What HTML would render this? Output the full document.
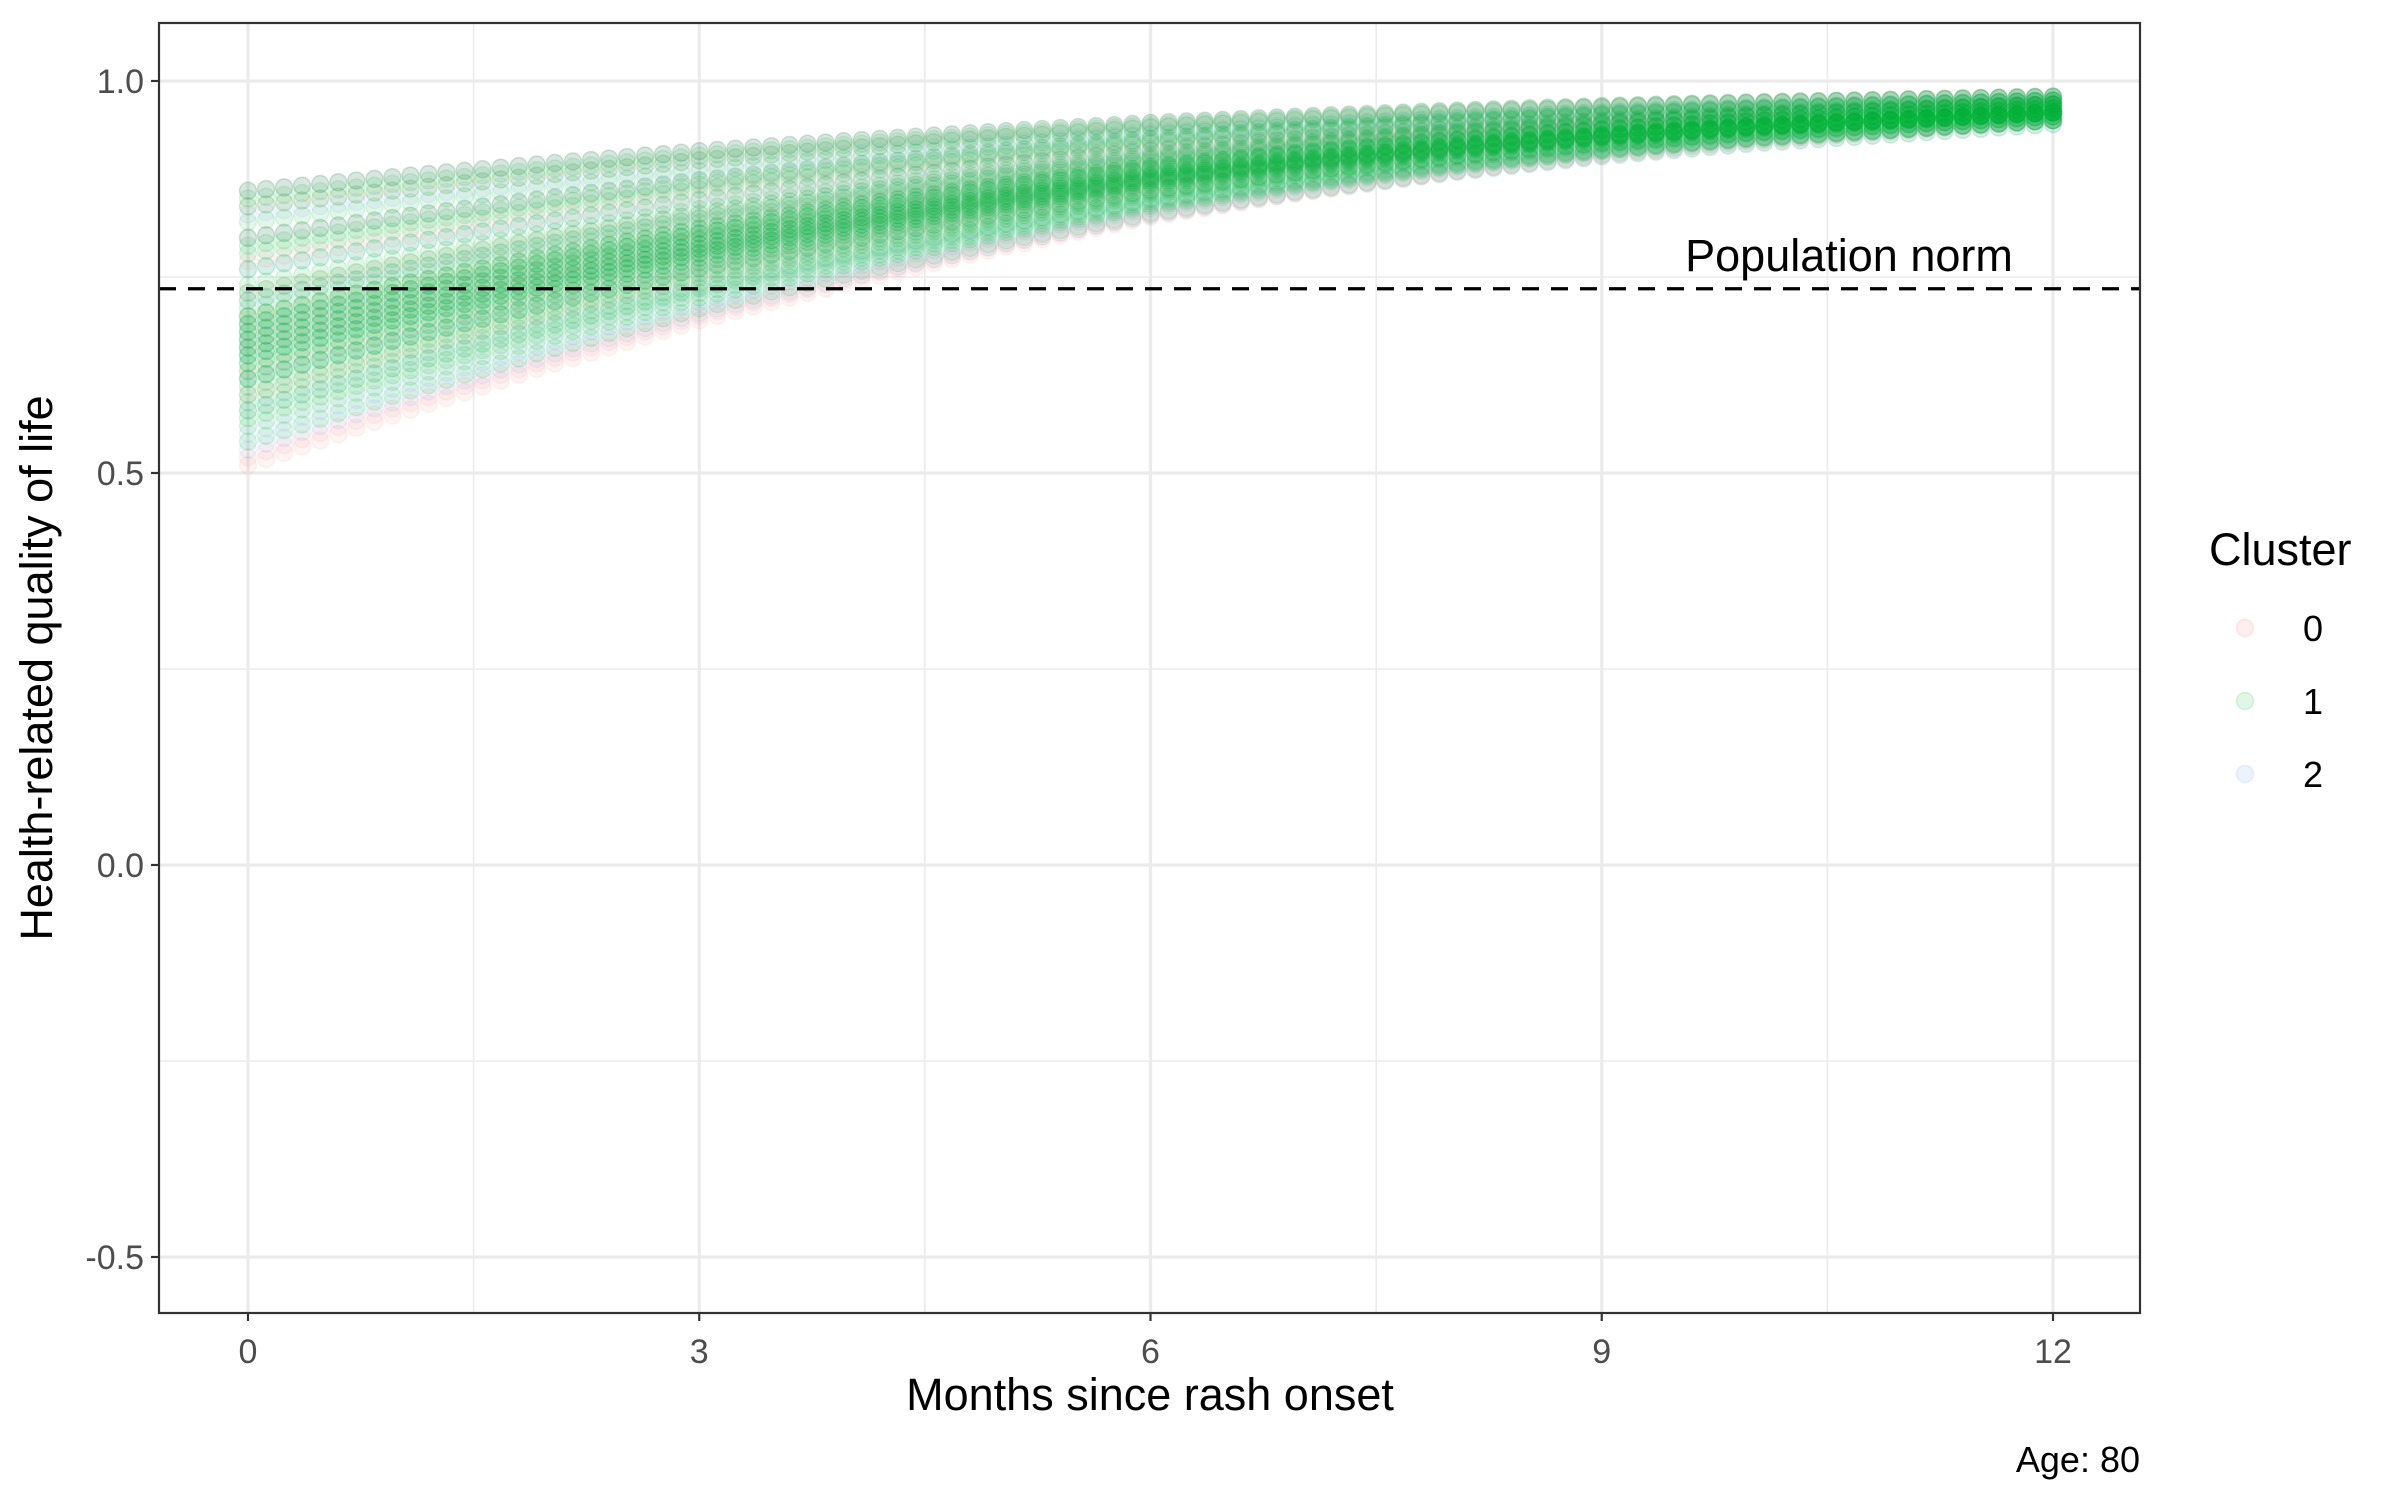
<!DOCTYPE html>
<html><head><meta charset="utf-8">
<style>
html,body{margin:0;padding:0;background:#fff;}
svg{display:block;font-family:"Liberation Sans",Arial,sans-serif;}
</style></head>
<body>
<svg id="chart" width="2400" height="1500" viewBox="0 0 2400 1500" xmlns="http://www.w3.org/2000/svg">
<rect x="0" y="0" width="2400" height="1500" fill="#fff"/>
<g id="grid"></g>
<g id="points"></g>
<line id="normline" stroke="#000" stroke-width="3.2" stroke-dasharray="17,12"/>
<text id="normlabel" font-size="45" text-anchor="middle" fill="#000">Population norm</text>
<rect x="159" y="23" width="1981" height="1290" fill="none" stroke="#333" stroke-width="2.2"/>
<g id="axes"></g>
<text x="1150" y="1410" font-size="45" text-anchor="middle" fill="#000">Months since rash onset</text>
<text x="0" y="0" font-size="45" text-anchor="middle" fill="#000" transform="translate(52,668) rotate(-90)">Health-related quality of life</text>
<text x="2140" y="1472" font-size="36" text-anchor="end" fill="#000">Age: 80</text>
<g id="legend">
<text x="2209" y="565" font-size="45" fill="#000">Cluster</text>
</g>
</svg>
<script>
// ---- data ----
var xTicks = [0, 3, 6, 9, 12];
var xMinor = [1.5, 4.5, 7.5, 10.5];
var yTicks = [-0.5, 0, 0.5, 1.0];
var yTickLabels = ["-0.5", "0.0", "0.5", "1.0"];
var yMinor = [-0.25, 0.25, 0.75];
var populationNorm = 0.735;
var clusterNames = ["0", "1", "2"];
var clusterColors = ["#F8766D", "#00BA38", "#619CFF"];
// recovery profile at months 0..12 (fraction of the way from start to end value)
var profileMonths = [0,1,2,3,4,5,6,7,8,9,10,11,12];
var profileFrac = [0,0.15,0.29,0.42,0.53,0.63,0.72,0.79,0.85,0.90,0.94,0.97,1.0];
// trajectories: start value (month 0) and end value (month 12), per cluster
var startC0 = [0.51,0.52,0.60,0.63,0.66,0.70,0.73,0.77,0.80,0.84,0.86,0.68];
var endC0   = [0.95,0.95,0.96,0.96,0.96,0.97,0.97,0.97,0.97,0.98,0.98,0.96];
var startC1 = [0.54,0.56,0.57,0.58,0.59,0.60,0.61,0.62,0.63,0.64,0.65,0.66,0.67,0.67,0.68,0.69,0.70,0.70,0.71,0.72,0.73,0.74,0.76,0.78,0.79,0.80,0.82,0.84,0.85,0.86,0.62,0.65,0.68,0.66,0.69,0.64];
var endC1   = [0.945,0.95,0.95,0.95,0.95,0.955,0.955,0.955,0.96,0.96,0.96,0.96,0.96,0.96,0.965,0.965,0.965,0.965,0.97,0.97,0.97,0.97,0.97,0.975,0.975,0.975,0.975,0.98,0.98,0.98,0.955,0.96,0.96,0.96,0.965,0.96];
var startC2 = [0.53,0.55,0.58,0.62,0.65,0.69,0.72,0.76,0.80,0.83,0.86,0.67];
var endC2   = [0.945,0.95,0.955,0.96,0.96,0.965,0.97,0.97,0.975,0.975,0.98,0.96];
var timeStep = 0.12;

// ---- scales ----
function xS(m){ return 248 + m * (2053 - 248) / 12; }
function yS(v){ return 81 + (1.0 - v) * 784; }
var NS = "http://www.w3.org/2000/svg";
function mk(tag, attrs, parent){
  var e = document.createElementNS(NS, tag);
  for (var k in attrs) e.setAttribute(k, attrs[k]);
  parent.appendChild(e);
  return e;
}
function frac(m){
  var i = Math.min(Math.floor(m), 11);
  var t = m - i;
  return profileFrac[i] + (profileFrac[i+1] - profileFrac[i]) * t;
}
var grid = document.getElementById('grid');
xMinor.forEach(function(m){
  var l = mk('line', {x1:xS(m), x2:xS(m), y1:23, y2:1313, stroke:'#ebebeb', 'stroke-width':1.6}, grid);
  
  
});
yMinor.forEach(function(v){
  var l = mk('line', {x1:159, x2:2140, y1:yS(v), y2:yS(v), stroke:'#ebebeb', 'stroke-width':1.6}, grid);
  
  
});
xTicks.forEach(function(m){
  var l = mk('line', {x1:xS(m), x2:xS(m), y1:23, y2:1313, stroke:'#ebebeb', 'stroke-width':3.2}, grid);
  
  
});
yTicks.forEach(function(v){
  var l = mk('line', {x1:159, x2:2140, y1:yS(v), y2:yS(v), stroke:'#ebebeb', 'stroke-width':3.2}, grid);
  
  
});

// points
var pts = document.getElementById('points');
function drawCluster(starts, ends, ci){
  var g = mk('g', {fill: clusterColors[ci], 'fill-opacity': ci==1?0.11:0.08, stroke: clusterColors[ci], 'stroke-opacity': ci==1?0.12:0.09, 'stroke-width':1.5}, pts);
  
  
  for (var j = 0; j < starts.length; j++){
    for (var n = 0; n <= 100; n++){
      var m = n * timeStep;
      var v = starts[j] + (ends[j] - starts[j]) * frac(m);
      var c = mk('circle', {cx: xS(m).toFixed(1), cy: yS(v).toFixed(1), r: 8.5}, g);
      
      
    }
  }
}
drawCluster(startC0, endC0, 0);
drawCluster(startC2, endC2, 2);
drawCluster(startC1, endC1, 1);

// norm line
var nl = document.getElementById('normline');
nl.setAttribute('x1', 159); nl.setAttribute('x2', 2140);
nl.setAttribute('y1', yS(populationNorm)); nl.setAttribute('y2', yS(populationNorm));
var nt = document.getElementById('normlabel');
nt.setAttribute('x', 1849); nt.setAttribute('y', yS(populationNorm) - 18);

// axes
var ax = document.getElementById('axes');
xTicks.forEach(function(m){
  var t = mk('line', {x1:xS(m), x2:xS(m), y1:1313, y2:1321, stroke:'#333', 'stroke-width':2.2}, ax);
  
  
  var tx = mk('text', {x:xS(m), y:1363, 'font-size':34, 'text-anchor':'middle', fill:'#4d4d4d'}, ax);
  tx.textContent = String(m);
  
  
});
yTicks.forEach(function(v, i){
  var t = mk('line', {x1:151, x2:159, y1:yS(v), y2:yS(v), stroke:'#333', 'stroke-width':2.2}, ax);
  
  
  var tx = mk('text', {x:144, y:yS(v)+12, 'font-size':34, 'text-anchor':'end', fill:'#4d4d4d'}, ax);
  tx.textContent = yTickLabels[i];
  
  
});

// legend
var lg = document.getElementById('legend');
clusterNames.forEach(function(name, i){
  var y = 628 + i * 73;
  var c = mk('circle', {cx:2245, cy:y, r:8.5, fill:clusterColors[i], 'fill-opacity':0.12, stroke:clusterColors[i], 'stroke-opacity':0.15, 'stroke-width':1.5}, lg);
  
  
  var t = mk('text', {x:2303, y:y+13, 'font-size':36, fill:'#000'}, lg);
  t.textContent = name;
  
  
});
</script>
</body></html>
